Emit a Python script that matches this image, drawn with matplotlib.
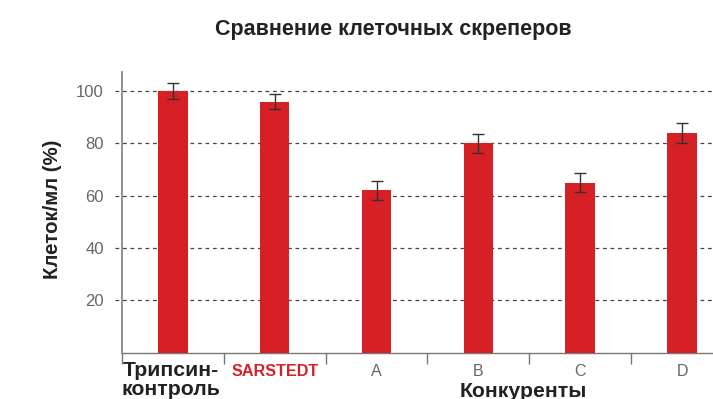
import matplotlib
matplotlib.use("Agg")
import matplotlib.pyplot as plt
import numpy as np

plt.rcParams['font.family'] = ['Liberation Sans', 'DejaVu Sans']

# доля клеток относительно трипсина, %
categories = ["Трипсин-\nконтроль", "SARSTEDT", "A", "B", "C", "D"]
values = [100, 96, 62, 80, 65, 84]
errors = [3.0, 2.8, 3.6, 3.5, 3.7, 3.8]
yticks = [20, 40, 60, 80, 100]

red = "#D71F26"
grey = "#666666"

fig = plt.figure(figsize=(7.13, 3.99), dpi=100)
ax = fig.add_axes([0.171, 0.1165, 0.857, 0.703])

x = np.arange(len(categories))
ax.bar(x, values, width=0.29, color=red, zorder=3)
ax.errorbar(x, values, yerr=errors, fmt='none', ecolor='#333333',
            elinewidth=1.0, capsize=4, capthick=1.0, zorder=4)

ax.set_xlim(-0.5, len(categories) - 0.5)
ax.set_ylim(0, 107.3)

# пунктирные линии сетки заходят чуть левее оси
ax.hlines(yticks, -0.57, len(categories) - 0.5, colors='#444444',
          linestyles=(0, (3, 3)), linewidth=0.9, zorder=1, clip_on=False)
ax.set_yticks(yticks)
ax.set_yticklabels([str(v) for v in yticks], fontsize=12, color=grey)
ax.tick_params(axis='y', length=0, pad=13)

# деления на границах категорий, подписи ставим текстом
ax.set_xticks(np.arange(len(categories)) - 0.5)
ax.set_xticklabels([])
ax.tick_params(axis='x', length=8, color='#777777', width=1.0, direction='out')

for side in ('top', 'right'):
    ax.spines[side].set_visible(False)
ax.spines['left'].set_color('#888888')
ax.spines['left'].set_linewidth(1.3)
ax.spines['left'].set_zorder(5)
ax.spines['bottom'].set_color('#777777')
ax.spines['bottom'].set_linewidth(1.0)

tr = ax.get_xaxis_transform()
ax.text(-0.02, -0.03, categories[0], transform=tr, ha='center', va='top',
        fontsize=15.3, fontweight='bold', color='#222222', linespacing=1.0)
ax.text(1, -0.04, categories[1], transform=tr, ha='center', va='top',
        fontsize=11.6, fontweight='bold', color=red)
for i in range(2, len(categories)):
    ax.text(i, -0.04, categories[i], transform=tr, ha='center', va='top',
            fontsize=11.5, color=grey)
ax.text(3.44, -0.105, "Конкуренты", transform=tr, ha='center', va='top',
        fontsize=15.3, fontweight='bold', color='#222222')

fig.text(0.073, 0.476, "Клеток/мл (%)", rotation=90, ha='center', va='center',
         fontsize=14.7, fontweight='bold', color='#222222')
fig.text(0.552, 0.925, "Сравнение клеточных скреперов", ha='center', va='center',
         fontsize=15.5, fontweight='bold', color='#222222')

fig.savefig("out.png", dpi=100)
